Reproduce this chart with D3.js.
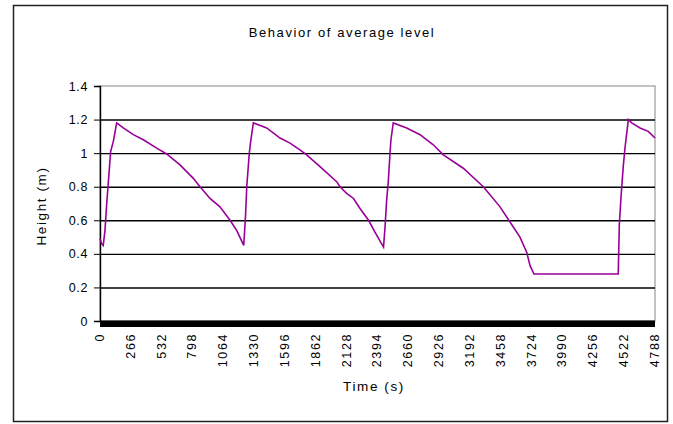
<!DOCTYPE html>
<html>
<head>
<meta charset="utf-8">
<script src="https://cdn.jsdelivr.net/npm/d3@7"></script>
<style>
  body { margin: 0; background: #fff; }
  text { font-family: "Liberation Sans", Arial, sans-serif; fill: #000; }
</style>
</head>
<body>
<div id="chart"></div>
<script>
var svgWidth = 673;
var svgHeight = 424;

// plot area in pixels
var margin = { top: 86, right: 18, bottom: 103, left: 100 };
var width = svgWidth - margin.left - margin.right;   // 555
var height = svgHeight - margin.top - margin.bottom; // ~235

// time (s) and average level (m)
var timeValues = [0, 14, 28, 43, 58, 80, 92, 115, 144, 201, 287, 374, 489, 575, 690, 805, 863, 949, 1035, 1122, 1179, 1240,
  1255, 1266, 1288, 1300, 1323, 1438, 1553, 1639, 1725, 1783, 1898, 2042, 2070, 2128, 2187, 2243, 2317, 2372, 2446,
  2459, 2473, 2487, 2502, 2510, 2530, 2646, 2761, 2875, 2962, 3134, 3307, 3451, 3537, 3623, 3681, 3710, 3744,
  4471, 4480, 4495, 4514, 4529, 4558, 4587, 4659, 4730, 4788];
var levelValues = [0.49, 0.46, 0.45, 0.54, 0.70, 0.90, 1.01, 1.07, 1.18, 1.15, 1.11, 1.08, 1.03, 0.995, 0.93, 0.85, 0.80, 0.73, 0.68, 0.60, 0.54, 0.45,
  0.62, 0.80, 1.00, 1.07, 1.18, 1.15, 1.09, 1.06, 1.02, 0.99, 0.92, 0.83, 0.80, 0.76, 0.73, 0.67, 0.60, 0.53, 0.44,
  0.56, 0.72, 0.83, 1.00, 1.08, 1.18, 1.15, 1.11, 1.05, 0.99, 0.91, 0.80, 0.68, 0.59, 0.50, 0.41, 0.33, 0.28,
  0.28, 0.57, 0.74, 0.92, 1.03, 1.20, 1.18, 1.15, 1.13, 1.09];

var xTickLabels = [0, 266, 532, 798, 1064, 1330, 1596, 1862, 2128, 2394, 2660, 2926, 3192, 3458, 3724, 3990, 4256, 4522, 4788];
var yTickLabels = [0, 0.2, 0.4, 0.6, 0.8, 1, 1.2, 1.4];

var levelData = timeValues.map(function(t, i) {
  return { time: t, level: levelValues[i] };
});

var svg = d3.select("#chart")
  .append("svg")
  .attr("width", svgWidth)
  .attr("height", svgHeight);

// outer frame
svg.append("rect")
  .attr("x", 13.5)
  .attr("y", 5.5)
  .attr("width", 654)
  .attr("height", 416)
  .attr("fill", "none")
  .attr("stroke", "#222")
  .attr("stroke-width", 1.5);

var chartGroup = svg.append("g")
  .attr("transform", `translate(${margin.left}, ${margin.top})`);

var xScale = d3.scaleLinear()
  .domain([0, 4788])
  .range([0, width]);

var yScale = d3.scaleLinear()
  .domain([0, 1.4])
  .range([height, 0]);

// plot border (gray, top and right)
chartGroup.append("rect")
  .attr("x", 0)
  .attr("y", 0)
  .attr("width", width)
  .attr("height", height)
  .attr("fill", "none")
  .attr("stroke", "#999")
  .attr("stroke-width", 1.2);

// gridlines
var grid = chartGroup.append("g")
  .call(d3.axisLeft(yScale).tickValues(yTickLabels.slice(1, 7)).tickSize(-width).tickFormat(""));
grid.select(".domain").remove();
grid.selectAll("line").attr("stroke", "#000").attr("stroke-width", 1.4);

// y axis
var yAxis = chartGroup.append("g")
  .call(d3.axisLeft(yScale).tickValues(yTickLabels).tickSize(6).tickPadding(6).tickFormat(d3.format("")));
yAxis.select(".domain").attr("stroke", "#000").attr("stroke-width", 1.4);
yAxis.selectAll("line").attr("stroke", "#000");
yAxis.selectAll("text")
  .attr("font-size", "12.5px")
  .attr("letter-spacing", "0.6px")
  .attr("font-family", "Liberation Sans, Arial, sans-serif");

// x axis: dense category ticks give a solid black band
chartGroup.append("rect")
  .attr("x", 0)
  .attr("y", height - 0.5)
  .attr("width", width)
  .attr("height", 6.5)
  .attr("fill", "#000");

var xAxis = chartGroup.append("g")
  .attr("transform", `translate(0, ${height})`)
  .call(d3.axisBottom(xScale).tickValues(xTickLabels).tickSize(0).tickFormat(d3.format("d")));
xAxis.select(".domain").remove();
xAxis.selectAll("text")
  .attr("font-size", "12.5px")
  .attr("letter-spacing", "1.6px")
  .attr("font-family", "Liberation Sans, Arial, sans-serif")
  .attr("text-anchor", "end")
  .attr("transform", "translate(-1, 12) rotate(-90)")
  .attr("x", 0)
  .attr("y", 0)
  .attr("dy", "0.35em");

// level line
var line = d3.line()
  .x(d => xScale(d.time))
  .y(d => yScale(d.level));

chartGroup.append("path")
  .datum(levelData)
  .attr("d", line)
  .attr("fill", "none")
  .attr("stroke", "#990099")
  .attr("stroke-width", 1.6);

// title
svg.append("text")
  .attr("x", 342)
  .attr("y", 37)
  .attr("text-anchor", "middle")
  .attr("font-size", "13px")
  .attr("letter-spacing", "1.6px")
  .text("Behavior of average level");

// axis titles
svg.append("text")
  .attr("x", 374)
  .attr("y", 391)
  .attr("text-anchor", "middle")
  .attr("font-size", "13.5px")
  .attr("letter-spacing", "1.6px")
  .text("Time (s)");

svg.append("text")
  .attr("transform", "translate(46, 206) rotate(-90)")
  .attr("text-anchor", "middle")
  .attr("font-size", "13.5px")
  .attr("letter-spacing", "1.6px")
  .text("Height (m)");
</script>
</body>
</html>
